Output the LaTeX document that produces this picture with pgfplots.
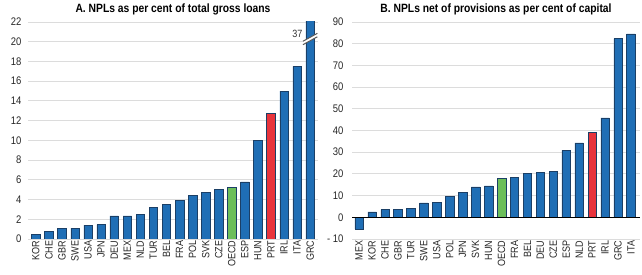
\documentclass[border=0pt]{standalone}
\usepackage{fontspec}
\setmainfont{Liberation Sans}[FakeStretch=0.86]
\usepackage{pgfplots}
\pgfplotsset{compat=1.18}
\usepackage{pgfplotstable}
\definecolor{oblue}{HTML}{1F6EB5}
\definecolor{oedge}{HTML}{1B3F66}
\definecolor{ored}{HTML}{E8343C}
\definecolor{ogreen}{HTML}{6CBE5A}
\definecolor{ogrid}{HTML}{DCDCDC}

% Panel A
\pgfplotstableread{
x y
0 0.5
1 0.75
2 1.05
3 1.1
4 1.4
5 1.45
6 2.35
7 2.35
8 2.5
9 3.2
10 3.5
11 3.9
12 4.4
13 4.75
14 5.0
16 5.8
17 10.0
19 15.0
20 17.5
21 37
}\Ablue
\pgfplotstableread{
x y
18 12.7
}\Ared
\pgfplotstableread{
x y
15 5.2
}\Agreen

% Panel B
\pgfplotstableread{
x y
0 -5.5
1 2.5
2 3.5
3 3.8
4 4.0
5 6.7
6 6.8
7 9.8
8 11.5
9 14.0
10 14.5
12 18.5
13 20.2
14 20.8
15 21.2
16 30.8
17 34.3
19 45.8
20 82.3
21 84.5
}\Bblue
\pgfplotstableread{
x y
18 39
}\Bred
\pgfplotstableread{
x y
11 18
}\Bgreen

\pgfplotsset{
  npl/.style={
    scale only axis,
    height=217pt,
    ybar,
    bar width=8.5pt,
    bar shift=0pt,
    axis line style={draw=none},
    major tick length=0pt,
    ymajorgrids,
    grid style={ogrid, line width=0.9pt},
    xtick={0,...,21},
    x tick label style={rotate=90, anchor=east, font=\fontsize{10.5}{11}\selectfont, inner sep=1.5pt},
    y tick label style={font=\fontsize{11}{12}\selectfont},
    /pgf/number format/assume math mode=true,
    tick label style={color=black!85},
  },
}

\begin{document}
\begin{tikzpicture}
\useasboundingbox (-28pt,-36pt) rectangle (614pt,239pt);
\begin{axis}[npl,
  width=290pt,
  xmin=-0.6, xmax=21.6,
  ymin=0, ymax=22,
  ytick={0,2,...,22},
  xticklabels={KOR,CHE,GBR,SWE,USA,JPN,DEU,MEX,NLD,TUR,BEL,FRA,POL,SVK,CZE,OECD,ESP,HUN,PRT,IRL,ITA,GRC},
  yticklabel style={xshift=-3pt},
  clip mode=individual,
]
\addplot[fill=oblue, draw=oedge, line width=0.5pt] table[x=x,y=y]{\Ablue};
\addplot[fill=ored, draw=oedge, line width=0.5pt] table[x=x,y=y]{\Ared};
\addplot[fill=ogreen, draw=oedge, line width=0.5pt] table[x=x,y=y]{\Agreen};
\addplot[sharp plot, black, line width=0.8pt, forget plot] coordinates {(-0.6,0) (21.6,0)};
\fill[white] (axis cs:20.45,19.7) -- (axis cs:21.55,20.5) -- (axis cs:21.55,20.85) -- (axis cs:20.45,20.05) -- cycle;
\draw[black!65, line width=1pt] (axis cs:20.45,19.7) -- (axis cs:21.55,20.5);
\draw[black!65, line width=1pt] (axis cs:20.45,20.05) -- (axis cs:21.55,20.85);
\node[anchor=east, font=\fontsize{10.5}{11}\selectfont, text=black!80, inner sep=1pt] at (axis cs:20.5,20.8) {37};
\node[anchor=base, font=\bfseries\fontsize{12}{14}\selectfont, inner sep=0pt] at ([yshift=9pt]rel axis cs:0.5,1) {A. NPLs as per cent of total gross loans};
\end{axis}
\begin{axis}[npl,
  xshift=324pt,
  width=288pt,
  xmin=-0.55, xmax=21.7,
  ymin=-10, ymax=90,
  ytick={-10,0,...,90},
  yticklabels={- 10,0,10,20,30,40,50,60,70,80,90},
  xticklabels={MEX,KOR,CHE,GBR,TUR,SWE,USA,POL,JPN,SVK,HUN,OECD,FRA,BEL,DEU,CZE,ESP,NLD,PRT,IRL,GRC,ITA},
  yticklabel style={xshift=-5pt},
  clip mode=individual,
]
\addplot[fill=oblue, draw=oedge, line width=0.5pt] table[x=x,y=y]{\Bblue};
\addplot[fill=ored, draw=oedge, line width=0.5pt] table[x=x,y=y]{\Bred};
\addplot[fill=ogreen, draw=oedge, line width=0.5pt] table[x=x,y=y]{\Bgreen};
\addplot[sharp plot, black, line width=0.8pt, forget plot] coordinates {(-0.55,0) (21.7,0)};
\node[anchor=base, font=\bfseries\fontsize{12}{14}\selectfont, inner sep=0pt] at ([yshift=9pt]rel axis cs:0.5,1) {B. NPLs net of provisions as per cent of capital};
\end{axis}
\end{tikzpicture}
\end{document}
